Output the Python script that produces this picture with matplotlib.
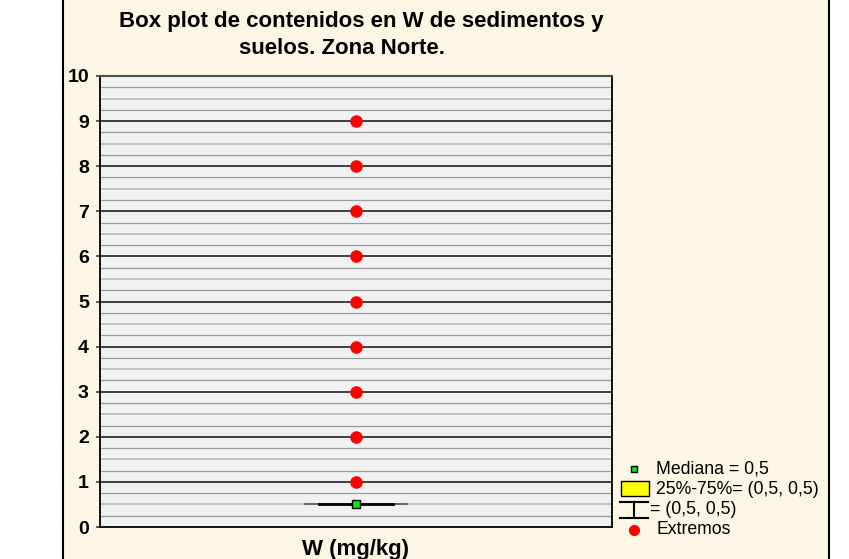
import matplotlib.pyplot as plt
import numpy as np
from matplotlib.patches import Rectangle

# Data
extremos = [1, 2, 3, 4, 5, 6, 7, 8, 9]
mediana = 0.5
cuartiles = (0.5, 0.5)
bigotes = (0.5, 0.5)
yticks = [0, 1, 2, 3, 4, 5, 6, 7, 8, 9, 10]

plt.rcParams['font.family'] = ['Liberation Sans', 'DejaVu Sans']

fig = plt.figure(figsize=(8.49, 5.59), dpi=100)
fig.patch.set_facecolor('white')
# cream panel with black frame
fig.patches.append(Rectangle((63 / 849, -0.01), (829 - 63) / 849, 1.03,
                             transform=fig.transFigure, facecolor='#fdf6e4',
                             edgecolor='black', linewidth=1.5, zorder=-5))

ax = fig.add_axes([100 / 849, 1 - 527 / 559, 512 / 849, 451 / 559])
ax.set_facecolor('#f1f1f1')
ax.set_xlim(-1, 1)
ax.set_ylim(0, 10)

# grid lines
for y in np.arange(0.25, 10, 0.25):
    if abs(y - round(y)) < 1e-9:
        ax.axhline(y, color='#404040', lw=1.4, zorder=1)
    elif abs(abs(y - round(y)) - 0.5) < 1e-9:
        ax.axhline(y, color='#b8b8b8', lw=1.2, zorder=1)
    else:
        ax.axhline(y, color='#9a9a9a', lw=0.9, zorder=1)

# whiskers / box / median
ax.plot([-0.2, 0.2], [bigotes[0], bigotes[1]], color='#555555', lw=1.2, zorder=2)
ax.plot([-0.145, 0.145], [cuartiles[0], cuartiles[1]], color='black', lw=2, zorder=3)
ax.plot([0], [mediana], marker='s', color='#00ee00', mec='black', mew=1, ms=6,
        linestyle='none', zorder=4)
ax.plot(np.zeros(len(extremos)), extremos, 'o', color='red', ms=8, zorder=4)

ax.set_yticks(yticks)
ax.set_yticklabels([str(t) for t in yticks], fontweight='bold', fontsize=14)
ax.set_xticks([])
ax.tick_params(axis='y', length=3, width=1.2, color='#404040', pad=5)
ax.spines['top'].set_color('#505050')
ax.spines['top'].set_linewidth(1.5)
for side in ['left', 'right', 'bottom']:
    ax.spines[side].set_color('black')
    ax.spines[side].set_linewidth(1.3)

ax.set_xlabel('W (mg/kg)', fontweight='bold', fontsize=16, labelpad=9)
fig.text(361 / 849, 1 - 22 / 559, 'Box plot de contenidos en W de sedimentos y',
         ha='center', va='center', fontweight='bold', fontsize=16)
fig.text(342 / 849, 1 - 48 / 559, 'suelos. Zona Norte.',
         ha='center', va='center', fontweight='bold', fontsize=16)

# legend drawn by hand in figure coordinates
def fx(px):
    return px / 849

def fy(py):
    return 1 - py / 559

fs = 12.7
fig.add_artist(plt.Line2D([fx(634)], [fy(469)], marker='s', color='#00ee00',
                          mec='black', mew=1, ms=5, linestyle='none'))
fig.text(fx(656), fy(469), 'Mediana = 0,5', va='center', fontsize=fs)
fig.patches.append(Rectangle((fx(621), fy(496)), fx(28), 15 / 559,
                             transform=fig.transFigure, facecolor='#ffff00',
                             edgecolor='black', linewidth=1, zorder=3))
fig.text(fx(656), fy(489), '25%-75%= (0,5, 0,5)', va='center', fontsize=fs)
fig.add_artist(plt.Line2D([fx(620), fx(648)], [fy(502), fy(502)], color='black', lw=1.5))
fig.add_artist(plt.Line2D([fx(634), fx(634)], [fy(502), fy(518)], color='black', lw=1.5))
fig.add_artist(plt.Line2D([fx(620), fx(648)], [fy(518), fy(518)], color='black', lw=1.5))
fig.text(fx(650), fy(510), '= (0,5, 0,5)', va='center', fontsize=fs)
fig.add_artist(plt.Line2D([fx(634)], [fy(530)], marker='o', color='red', ms=7,
                          linestyle='none'))
fig.text(fx(656), fy(530), 'Extremos', va='center', fontsize=fs)

fig.savefig('out.png', dpi=100)
